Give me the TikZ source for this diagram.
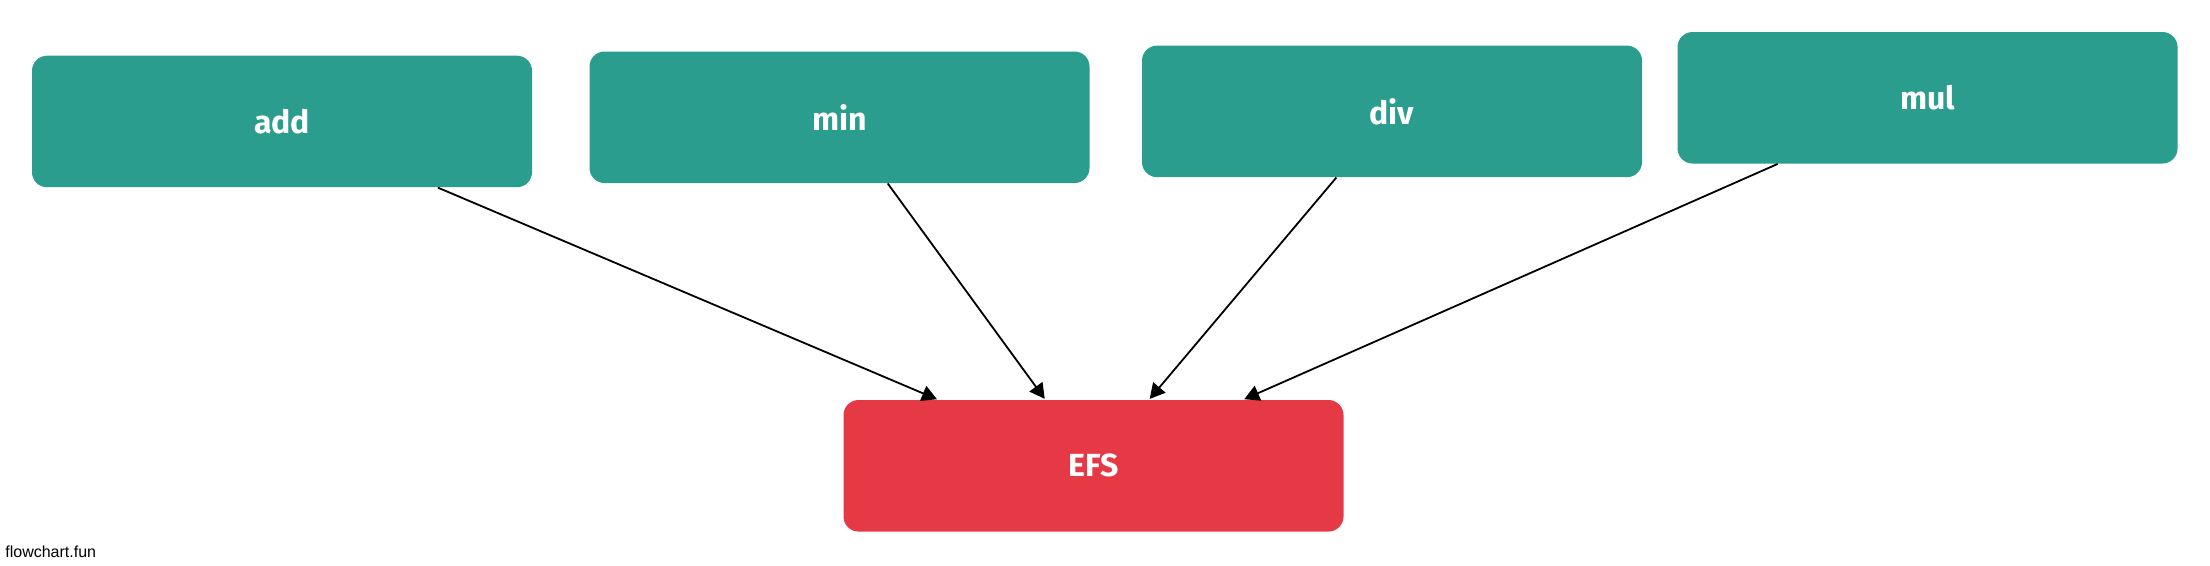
\documentclass[tikz,border=0pt]{standalone}
\usepackage{fontspec}
\setmainfont{Liberation Sans}
\newfontfamily\boxfont{Fira Sans}
\usepackage{xcolor}
\usetikzlibrary{positioning,arrows.meta}
\definecolor{opteal}{HTML}{2A9D8F}
\definecolor{alarm}{HTML}{E63946}
\definecolor{ink}{HTML}{000000}
\tikzset{
  opbox/.style   = {fill=opteal, draw=none, rounded corners=7.5pt, minimum width=250pt, minimum height=65.75pt,
                    font=\fontsize{16}{19}\selectfont\boxfont\bfseries, text=white, inner sep=0pt},
  sinkbox/.style = {opbox, fill=alarm},
  flow/.style    = {-{Triangle[length=7.5pt,width=8pt]}, draw=ink, line width=0.9pt, shorten >=0.5pt},
  brand/.style   = {font=\fontsize{8}{9.5}\selectfont, text=ink, anchor=base west, inner sep=0pt},
}
\begin{document}
\begin{tikzpicture}[x=0.5pt,y=0.5pt]
\path[use as bounding box] (0,0) rectangle (2210,566);

% ---------- the four operations -----------------------------------------
\node[opbox] (add) at (282,444.5)    {add};
\node[opbox] (min) at (839.5,448.7)  {min};
\node[opbox] (div) at (1392,454.6)   {div};
\node[opbox] (mul) at (1927.5,468.2) {mul};

% ---------- where they all end up ---------------------------------------
\node[sinkbox] (efs) at (1093.5,100.2) {EFS};

\foreach \src in {add,min,div,mul}{
  \draw[flow] (\src) -- (efs);
}

% footer
\node[brand] (mark) at (5,8.5) {flowchart.fun};

\end{tikzpicture}
\end{document}
